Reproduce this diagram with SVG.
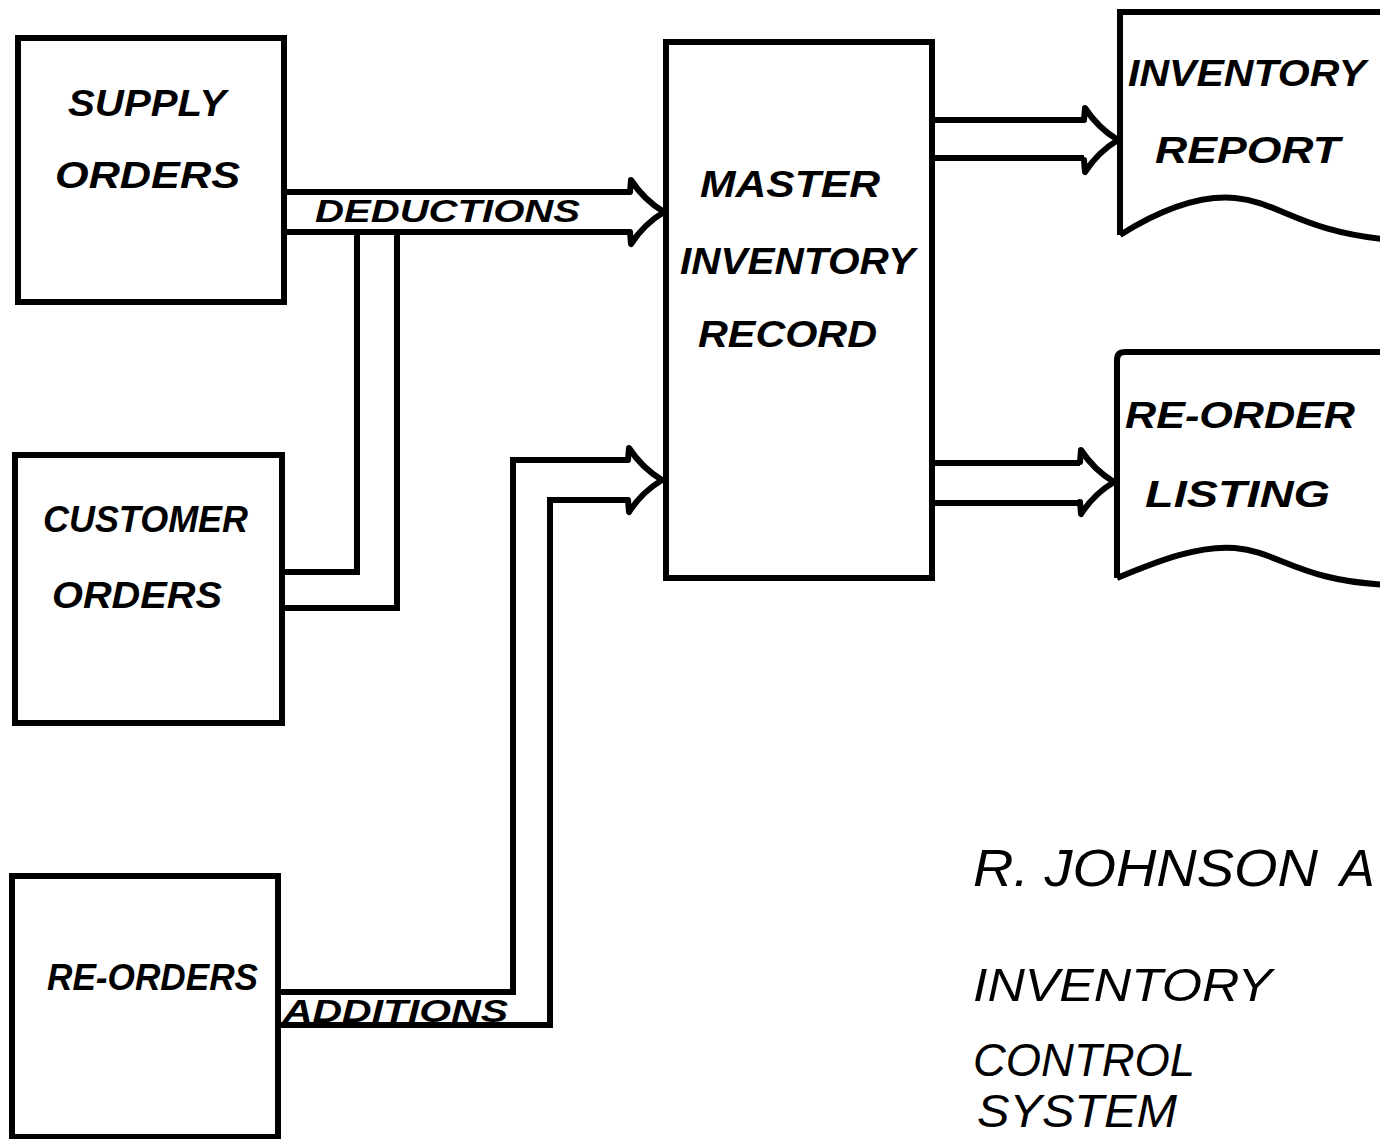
<svg xmlns="http://www.w3.org/2000/svg" width="1380" height="1139" viewBox="0 0 1380 1139">
<style>
.box{fill:none;stroke:#000;stroke-width:6;stroke-linejoin:miter}
.ln{fill:none;stroke:#000;stroke-width:6;stroke-linejoin:miter}
.t{font-family:"Liberation Sans",Arial,sans-serif;font-style:italic;font-weight:bold;fill:#000;font-size:36px}
.s{font-size:31px}
.j{font-family:"Liberation Sans",Arial,sans-serif;font-style:italic;fill:#000;font-size:52px}
.k{font-family:"Liberation Sans",Arial,sans-serif;font-style:italic;fill:#000;font-size:46px}
</style>
<defs>
<path id="head" d="M-34,-20 L-33,-32 Q-20,-12 0,0 Q-20,12 -33,32 L-34,20" fill="none" stroke="#000" stroke-width="6" stroke-linejoin="round" stroke-linecap="round"/>
</defs>
<rect width="1380" height="1139" fill="#fff"/>

<g id="supply-orders">
<rect class="box" x="18" y="38" width="266" height="264"/>
<text class="t" x="68" y="116" textLength="158" lengthAdjust="spacingAndGlyphs">SUPPLY</text>
<text class="t" x="55" y="188" textLength="185" lengthAdjust="spacingAndGlyphs">ORDERS</text>
</g>

<g id="customer-orders">
<rect class="box" x="15" y="455" width="267" height="268"/>
<text class="t" x="43" y="532" textLength="205" lengthAdjust="spacingAndGlyphs">CUSTOMER</text>
<text class="t" x="52" y="608" textLength="170" lengthAdjust="spacingAndGlyphs">ORDERS</text>
</g>

<g id="re-orders">
<rect class="box" x="12" y="876" width="266" height="261"/>
<text class="t" x="47" y="990" textLength="211" lengthAdjust="spacingAndGlyphs">RE-ORDERS</text>
</g>

<g id="master-inventory-record">
<rect class="box" x="666" y="42" width="266" height="536"/>
<text class="t" x="700" y="197" textLength="180" lengthAdjust="spacingAndGlyphs">MASTER</text>
<text class="t" x="680" y="274" textLength="235" lengthAdjust="spacingAndGlyphs">INVENTORY</text>
<text class="t" x="698" y="347" textLength="179" lengthAdjust="spacingAndGlyphs">RECORD</text>
</g>

<g id="inventory-report">
<path class="box" d="M1120,235 L1120,12 L1392,12 L1392,240 M1120,235 C1160,210 1200,195 1235,198 C1280,202 1300,232 1392,240"/>
<text class="t" x="1128" y="86" textLength="238" lengthAdjust="spacingAndGlyphs">INVENTORY</text>
<text class="t" x="1155" y="163" textLength="185" lengthAdjust="spacingAndGlyphs">REPORT</text>
</g>

<g id="re-order-listing">
<path class="box" d="M1117,578 L1117,360 Q1117,352 1125,352 L1392,352 L1392,585 M1117,578 C1160,560 1200,545 1235,548 C1280,552 1300,582 1392,585"/>
<text class="t" x="1125" y="428" textLength="230" lengthAdjust="spacingAndGlyphs">RE-ORDER</text>
<text class="t" x="1145" y="507" textLength="185" lengthAdjust="spacingAndGlyphs">LISTING</text>
</g>

<g id="connectors">
<path class="ln" d="M284,192 L630,192 M284,232 L630,232"/>
<use href="#head" transform="translate(664,212)"/>
<text class="t s" x="315" y="222" textLength="265" lengthAdjust="spacingAndGlyphs">DEDUCTIONS</text>
<path class="ln" d="M282,572 L357,572 L357,232 M282,608 L397,608 L397,232"/>
<path class="ln" d="M278,992 L513,992 L513,460 L628,460 M278,1025 L550,1025 L550,500 L628,500"/>
<use href="#head" transform="translate(662,480)"/>
<text class="t s" x="283" y="1022" textLength="225" lengthAdjust="spacingAndGlyphs">ADDITIONS</text>
<path class="ln" d="M932,120 L1084,120 M932,158 L1084,158"/>
<use href="#head" transform="translate(1118,140)"/>
<path class="ln" d="M932,463 L1080,463 M932,503 L1080,503"/>
<use href="#head" transform="translate(1114,482)"/>
</g>

<g id="title">
<text class="j" x="973" y="886" textLength="345" lengthAdjust="spacingAndGlyphs">R. JOHNSON</text>
<text class="j" x="1340" y="886">A</text>
<text class="k" x="973" y="1001" textLength="299" lengthAdjust="spacingAndGlyphs">INVENTORY</text>
<text class="k" x="973" y="1076" textLength="222" lengthAdjust="spacingAndGlyphs">CONTROL</text>
<text class="k" x="977" y="1127" font-size="42" textLength="200" lengthAdjust="spacingAndGlyphs">SYSTEM</text>
</g>
</svg>
